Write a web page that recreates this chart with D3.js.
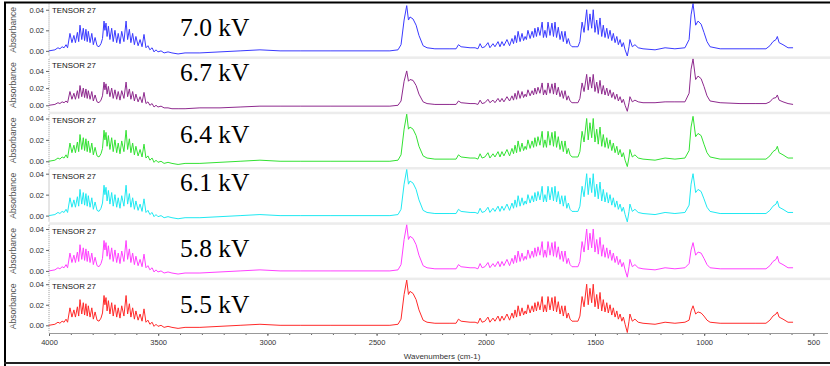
<!DOCTYPE html>
<html>
<head>
<meta charset="utf-8">
<script src="https://cdn.jsdelivr.net/npm/d3@7"></script>
<style>
  body { margin: 0; background: #fff; }
  svg { display: block; }
</style>
</head>
<body>
<div id="chart"></div>
<script>
// wavenumber grid shared by all six spectra (cm-1)
const wavenumbers = [
  4000,3973,3959,3950,3940,3931,3922,3915,3904,3895,
  3886,3879,3870,3864,3858,3850,3843,3837,3831,3825,
  3820,3812,3804,3797,3789,3780,3771,3762,3755,3748,
  3744,3739,3734,3728,3721,3713,3706,3698,3690,3683,
  3675,3667,3657,3647,3640,3632,3625,3617,3609,3602,
  3592,3583,3574,3565,3556,3547,3538,3528,3519,3510,
  3501,3487,3473,3455,3437,3409,3377,3309,3217,3125,
  3034,2942,2850,2713,2576,2439,2402,2388,2374,2362,
  2354,2347,2333,2319,2306,2287,2269,2233,2164,2136,
  2125,2113,2072,2049,2036,2026,2017,2004,1990,1981,
  1967,1958,1944,1935,1926,1917,1903,1891,1880,1873,
  1866,1859,1852,1843,1834,1827,1820,1814,1807,1797,
  1788,1781,1775,1768,1761,1752,1742,1736,1729,1722,
  1715,1706,1697,1690,1683,1676,1668,1660,1652,1645,
  1637,1629,1622,1614,1605,1591,1578,1569,1559,1550,
  1538,1531,1523,1515,1508,1500,1492,1485,1477,1469,
  1462,1454,1446,1439,1431,1423,1416,1408,1400,1393,
  1385,1377,1370,1362,1352,1344,1340,1329,1317,1302,
  1280,1225,1179,1134,1088,1069,1060,1051,1039,1028,
  1014,1001,987,973,927,836,767,717,699,685,
  671,665,657,639,616,593
];

// absorbance, one array per discharge voltage
const abs70 = [
  0.000,0.001,0.003,0.002,0.004,0.003,0.006,0.003,0.017,0.008,
  0.015,0.008,0.018,0.009,0.025,0.011,0.022,0.010,0.021,0.009,
  0.019,0.008,0.017,0.006,0.013,0.005,0.004,0.007,0.012,0.029,
  0.020,0.027,0.014,0.024,0.011,0.022,0.009,0.020,0.008,0.017,
  0.007,0.019,0.009,0.029,0.011,0.021,0.008,0.017,0.006,0.014,
  0.005,0.011,0.004,0.016,0.003,0.005,0.001,0.003,-0.001,0.001,
  -0.001,0.000,-0.002,-0.001,-0.002,-0.003,-0.002,-0.002,-0.001,0.000,
  0.001,0.000,0.000,0.000,0.000,0.000,0.001,0.006,0.030,0.044,
  0.030,0.033,0.031,0.025,0.015,0.005,0.003,0.002,0.002,0.002,
  0.006,0.004,0.003,0.003,0.002,0.007,0.003,0.004,0.008,0.003,
  0.007,0.004,0.009,0.004,0.009,0.005,0.011,0.005,0.012,0.007,
  0.015,0.008,0.019,0.009,0.017,0.010,0.014,0.011,0.020,0.012,
  0.019,0.013,0.022,0.014,0.023,0.015,0.028,0.013,0.020,0.013,
  0.028,0.015,0.027,0.014,0.028,0.013,0.023,0.011,0.019,0.009,
  0.019,0.007,0.012,0.006,0.004,0.004,0.004,0.009,0.028,0.018,
  0.040,0.020,0.036,0.022,0.040,0.018,0.030,0.016,0.032,0.014,
  0.025,0.013,0.022,0.012,0.020,0.010,0.017,0.008,0.014,0.006,
  0.011,0.004,0.008,0.001,-0.005,0.004,0.011,0.004,0.006,0.003,
  0.002,0.001,0.003,0.002,0.003,0.011,0.035,0.046,0.025,0.029,
  0.026,0.018,0.009,0.004,0.002,0.002,0.002,0.002,0.005,0.009,
  0.011,0.014,0.008,0.006,0.003,0.003
];
const abs67 = [
  0.000,0.001,0.003,0.002,0.004,0.003,0.005,0.003,0.016,0.007,
  0.014,0.007,0.017,0.008,0.023,0.010,0.020,0.009,0.019,0.008,
  0.017,0.007,0.016,0.005,0.012,0.004,0.003,0.006,0.011,0.027,
  0.018,0.025,0.013,0.022,0.010,0.020,0.008,0.018,0.007,0.016,
  0.006,0.017,0.008,0.027,0.010,0.019,0.007,0.016,0.005,0.013,
  0.004,0.010,0.003,0.015,0.002,0.004,0.000,0.002,-0.002,0.000,
  -0.002,-0.001,-0.003,-0.003,-0.004,-0.004,-0.004,-0.003,-0.003,-0.002,
  -0.001,-0.001,-0.001,-0.001,-0.001,-0.001,0.000,0.005,0.028,0.040,
  0.028,0.030,0.029,0.023,0.013,0.004,0.002,0.001,0.001,0.001,
  0.005,0.003,0.002,0.002,0.001,0.006,0.002,0.003,0.007,0.003,
  0.006,0.003,0.008,0.004,0.008,0.004,0.010,0.005,0.011,0.006,
  0.014,0.007,0.017,0.008,0.016,0.009,0.013,0.010,0.018,0.011,
  0.017,0.012,0.020,0.013,0.021,0.014,0.026,0.012,0.018,0.012,
  0.026,0.014,0.025,0.013,0.026,0.012,0.021,0.010,0.017,0.008,
  0.017,0.006,0.011,0.005,0.003,0.003,0.003,0.008,0.026,0.016,
  0.036,0.018,0.033,0.020,0.036,0.016,0.027,0.014,0.029,0.013,
  0.023,0.012,0.020,0.011,0.018,0.009,0.015,0.007,0.013,0.005,
  0.010,0.003,0.007,0.000,-0.007,0.003,0.010,0.004,0.006,0.004,
  0.003,0.003,0.004,0.004,0.004,0.014,0.042,0.054,0.030,0.034,
  0.031,0.022,0.011,0.005,0.003,0.002,0.002,0.002,0.004,0.008,
  0.009,0.012,0.006,0.004,0.002,0.001
];
const abs64 = [
  0.000,0.001,0.003,0.002,0.004,0.003,0.006,0.003,0.017,0.008,
  0.015,0.008,0.018,0.009,0.025,0.011,0.022,0.010,0.021,0.009,
  0.019,0.008,0.017,0.006,0.013,0.005,0.004,0.007,0.012,0.029,
  0.020,0.027,0.014,0.024,0.011,0.022,0.009,0.020,0.008,0.017,
  0.007,0.019,0.009,0.029,0.011,0.021,0.008,0.017,0.006,0.014,
  0.005,0.011,0.004,0.016,0.003,0.005,0.001,0.003,-0.001,0.001,
  -0.001,0.000,-0.002,-0.001,-0.002,-0.003,-0.002,-0.002,-0.001,0.000,
  0.001,0.000,0.000,0.000,0.000,0.000,0.001,0.006,0.030,0.044,
  0.030,0.032,0.030,0.024,0.014,0.005,0.003,0.002,0.002,0.002,
  0.006,0.004,0.003,0.003,0.002,0.007,0.003,0.004,0.008,0.003,
  0.007,0.004,0.009,0.004,0.009,0.005,0.011,0.005,0.012,0.007,
  0.015,0.008,0.019,0.009,0.017,0.010,0.014,0.011,0.020,0.012,
  0.019,0.013,0.022,0.014,0.023,0.015,0.028,0.013,0.020,0.013,
  0.028,0.015,0.027,0.014,0.028,0.013,0.023,0.011,0.019,0.009,
  0.019,0.007,0.012,0.006,0.004,0.004,0.004,0.009,0.028,0.018,
  0.040,0.020,0.036,0.022,0.040,0.018,0.030,0.016,0.032,0.014,
  0.025,0.013,0.022,0.012,0.020,0.010,0.017,0.008,0.014,0.006,
  0.011,0.004,0.008,0.001,-0.005,0.004,0.011,0.004,0.006,0.003,
  0.002,0.001,0.003,0.002,0.003,0.010,0.032,0.042,0.023,0.026,
  0.024,0.016,0.008,0.004,0.002,0.002,0.002,0.002,0.005,0.009,
  0.011,0.014,0.008,0.006,0.003,0.003
];
const abs61 = [
  0.000,0.001,0.003,0.002,0.004,0.003,0.006,0.003,0.017,0.008,
  0.015,0.008,0.018,0.009,0.025,0.011,0.022,0.010,0.021,0.009,
  0.019,0.008,0.017,0.006,0.013,0.005,0.004,0.007,0.012,0.029,
  0.020,0.027,0.014,0.024,0.011,0.022,0.009,0.020,0.008,0.017,
  0.007,0.019,0.009,0.029,0.011,0.021,0.008,0.017,0.006,0.014,
  0.005,0.011,0.004,0.016,0.003,0.005,0.001,0.003,-0.001,0.001,
  -0.001,0.000,-0.002,-0.001,-0.002,-0.003,-0.002,-0.002,-0.001,0.000,
  0.001,0.000,0.000,0.000,0.000,0.000,0.001,0.006,0.030,0.044,
  0.030,0.033,0.031,0.025,0.015,0.005,0.003,0.002,0.002,0.002,
  0.006,0.004,0.003,0.003,0.002,0.007,0.003,0.004,0.008,0.003,
  0.007,0.004,0.009,0.004,0.009,0.005,0.011,0.005,0.012,0.007,
  0.015,0.008,0.019,0.009,0.017,0.010,0.014,0.011,0.020,0.012,
  0.019,0.013,0.022,0.014,0.023,0.015,0.028,0.013,0.020,0.013,
  0.028,0.015,0.027,0.014,0.028,0.013,0.023,0.011,0.019,0.009,
  0.019,0.007,0.012,0.006,0.004,0.004,0.004,0.009,0.028,0.018,
  0.040,0.020,0.036,0.022,0.040,0.018,0.030,0.016,0.032,0.014,
  0.025,0.013,0.022,0.012,0.020,0.010,0.017,0.008,0.014,0.006,
  0.011,0.004,0.008,0.001,-0.006,0.004,0.011,0.004,0.006,0.003,
  0.002,0.001,0.003,0.002,0.003,0.010,0.030,0.040,0.022,0.025,
  0.023,0.016,0.008,0.004,0.002,0.002,0.002,0.002,0.005,0.009,
  0.011,0.014,0.008,0.006,0.003,0.003
];
const abs58 = [
  0.000,0.001,0.003,0.002,0.004,0.003,0.006,0.003,0.017,0.008,
  0.015,0.008,0.018,0.009,0.025,0.011,0.022,0.010,0.021,0.009,
  0.019,0.008,0.017,0.006,0.013,0.005,0.004,0.007,0.012,0.029,
  0.020,0.027,0.014,0.024,0.011,0.022,0.009,0.020,0.008,0.017,
  0.007,0.019,0.009,0.029,0.011,0.021,0.008,0.017,0.006,0.014,
  0.005,0.011,0.004,0.016,0.003,0.005,0.001,0.003,-0.001,0.001,
  -0.001,0.000,-0.002,-0.001,-0.002,-0.003,-0.002,-0.002,-0.001,0.000,
  0.001,0.000,0.000,0.000,0.000,0.000,0.001,0.006,0.030,0.044,
  0.030,0.033,0.031,0.025,0.015,0.005,0.003,0.002,0.002,0.002,
  0.006,0.004,0.003,0.003,0.002,0.007,0.003,0.004,0.008,0.003,
  0.007,0.004,0.009,0.004,0.009,0.005,0.011,0.005,0.012,0.007,
  0.015,0.008,0.019,0.009,0.017,0.010,0.014,0.011,0.020,0.012,
  0.019,0.013,0.022,0.014,0.023,0.015,0.028,0.013,0.020,0.013,
  0.028,0.015,0.027,0.014,0.028,0.013,0.023,0.011,0.019,0.009,
  0.019,0.007,0.012,0.006,0.004,0.004,0.004,0.009,0.028,0.018,
  0.040,0.020,0.036,0.022,0.040,0.018,0.030,0.016,0.032,0.014,
  0.025,0.013,0.022,0.012,0.020,0.010,0.017,0.008,0.014,0.006,
  0.011,0.004,0.008,0.001,-0.006,0.004,0.011,0.004,0.006,0.003,
  0.002,0.001,0.003,0.002,0.003,0.007,0.020,0.027,0.015,0.018,
  0.017,0.012,0.006,0.003,0.002,0.002,0.002,0.002,0.005,0.009,
  0.011,0.014,0.008,0.006,0.003,0.003
];
const abs55 = [
  0.000,0.001,0.003,0.002,0.004,0.003,0.006,0.003,0.017,0.008,
  0.015,0.008,0.018,0.009,0.025,0.011,0.022,0.010,0.021,0.009,
  0.019,0.008,0.017,0.006,0.013,0.005,0.004,0.007,0.012,0.029,
  0.020,0.027,0.014,0.024,0.011,0.022,0.009,0.020,0.008,0.017,
  0.007,0.019,0.009,0.029,0.011,0.021,0.008,0.017,0.006,0.014,
  0.005,0.011,0.004,0.016,0.003,0.005,0.001,0.003,-0.001,0.001,
  -0.001,0.000,-0.002,-0.001,-0.002,-0.003,-0.002,-0.002,-0.001,0.000,
  0.001,0.000,0.000,0.000,0.000,0.000,0.001,0.006,0.030,0.044,
  0.030,0.033,0.031,0.025,0.015,0.005,0.003,0.002,0.002,0.002,
  0.006,0.004,0.003,0.003,0.002,0.007,0.003,0.004,0.008,0.003,
  0.007,0.004,0.009,0.004,0.009,0.005,0.011,0.005,0.012,0.007,
  0.015,0.008,0.019,0.009,0.017,0.010,0.014,0.011,0.020,0.012,
  0.019,0.013,0.022,0.014,0.023,0.015,0.028,0.013,0.020,0.013,
  0.028,0.015,0.027,0.014,0.028,0.013,0.023,0.011,0.019,0.009,
  0.019,0.007,0.012,0.006,0.004,0.004,0.004,0.009,0.028,0.018,
  0.040,0.020,0.036,0.022,0.040,0.018,0.030,0.016,0.032,0.014,
  0.025,0.013,0.022,0.012,0.020,0.010,0.017,0.008,0.014,0.006,
  0.011,0.004,0.008,0.001,-0.007,0.004,0.011,0.004,0.006,0.003,
  0.002,0.001,0.003,0.002,0.003,0.005,0.014,0.019,0.011,0.013,
  0.012,0.009,0.005,0.003,0.002,0.002,0.002,0.002,0.005,0.009,
  0.011,0.013,0.008,0.006,0.003,0.003
];

const voltageLabels = ['7.0 kV', '6.7 kV', '6.4 kV', '6.1 kV', '5.8 kV', '5.5 kV'];
const yTickValues = [0, 0.02, 0.04];
const xMajorTicks = [4000, 3500, 3000, 2500, 2000, 1500, 1000, 500];
const xMinorTicks = d3.range(4000, 499, -100);

const spectra = [abs70, abs67, abs64, abs61, abs58, abs55];
const colors = ['#3a3aff', '#8e2a8e', '#33e233', '#1fe9f2', '#ff40ff', '#ff2a2a'];
// baseline of the big voltage labels, per panel (pasted in by hand in the original)
const labelBaseline = [36, 81, 143, 191, 257, 313];

const width = 830;
const height = 366;
const plotLeft = 49;
const plotRight = 828;
const panelTop0 = 3.6;
const panelPitch = 55.3;
const panelH = 52.4;
const axisY = 333;

const svg = d3.select('#chart').append('svg')
  .attr('width', width)
  .attr('height', height);

svg.append('rect').attr('width', width).attr('height', height).attr('fill', '#fff');

const xScale = d3.scaleLinear().domain([4000, 433]).range([plotLeft, plotRight]);

spectra.forEach(function(values, i) {
  const top = panelTop0 + i * panelPitch;
  const pts = wavenumbers.map(function(w, k) { return [w, values[k]]; });
  const yScale = d3.scaleLinear().domain(d3.extent(values)).range([top + panelH, top]);

  // grey strip under each panel
  if (i < spectra.length - 1) {
    svg.append('rect')
      .attr('x', plotLeft).attr('y', top + panelH + 0.4)
      .attr('width', width - plotLeft).attr('height', panelPitch - panelH - 0.4)
      .attr('fill', '#ececec');
  }

  // dotted y axis line
  svg.append('line')
    .attr('x1', plotLeft).attr('x2', plotLeft)
    .attr('y1', top).attr('y2', top + panelH)
    .attr('stroke', '#999').attr('stroke-dasharray', '1,1');

  const yAxis = d3.axisLeft(yScale).tickValues(yTickValues)
    .tickSize(3).tickPadding(2).tickFormat(d3.format('.2f'));
  const gy = svg.append('g').attr('transform', 'translate(' + plotLeft + ',0)').call(yAxis);
  gy.select('.domain').remove();
  gy.selectAll('line').attr('stroke', '#666');
  gy.selectAll('text').attr('font-family', 'Liberation Sans, Arial, sans-serif')
    .attr('font-size', 7.5).attr('fill', '#333');

  svg.append('text')
    .attr('transform', 'translate(16,' + (top + panelH / 2) + ') rotate(-90)')
    .attr('text-anchor', 'middle')
    .attr('font-family', 'Liberation Sans, Arial, sans-serif')
    .attr('font-size', 8.6).attr('fill', '#555')
    .text('Absorbance');

  svg.append('text')
    .attr('x', plotLeft + 3).attr('y', top + 9)
    .attr('font-family', 'Liberation Sans, Arial, sans-serif')
    .attr('font-size', 7.9).attr('fill', '#111')
    .text('TENSOR 27');

  const line = d3.line()
    .x(function(d) { return xScale(d[0]); })
    .y(function(d) { return yScale(d[1]); });

  svg.append('path')
    .datum(pts)
    .attr('d', line)
    .attr('fill', 'none')
    .attr('stroke', colors[i])
    .attr('stroke-width', 1)
    .attr('stroke-linejoin', 'round');

  svg.append('text')
    .attr('x', 180).attr('y', labelBaseline[i])
    .attr('font-family', 'Liberation Serif, Times New Roman, serif')
    .attr('font-size', 25.5).attr('fill', '#000')
    .text(voltageLabels[i]);
});

// x axis
const gx = svg.append('g').attr('transform', 'translate(0,' + axisY + ')');
gx.call(d3.axisBottom(xScale).tickValues(xMinorTicks).tickSize(2).tickFormat(''));
gx.select('.domain').remove();
const gxMajor = svg.append('g').attr('transform', 'translate(0,' + axisY + ')')
  .call(d3.axisBottom(xScale).tickValues(xMajorTicks).tickSize(3).tickPadding(4).tickFormat(d3.format('d')));
gxMajor.select('.domain').remove();
svg.append('line')
  .attr('x1', plotLeft).attr('x2', plotRight)
  .attr('y1', axisY + 0.5).attr('y2', axisY + 0.5)
  .attr('stroke', '#999');
svg.selectAll('.tick line').attr('stroke', '#666');
gxMajor.selectAll('text').attr('font-family', 'Liberation Sans, Arial, sans-serif')
  .attr('font-size', 7.5).attr('fill', '#333');

svg.append('text')
  .attr('x', 442).attr('y', 359)
  .attr('text-anchor', 'middle')
  .attr('font-family', 'Liberation Sans, Arial, sans-serif')
  .attr('font-size', 8).attr('fill', '#333')
  .text('Wavenumbers (cm-1)');

// outer frame
svg.append('path')
  .attr('d', 'M' + 5 + ',' + 366 + 'V2.5H' + (width + 5))
  .attr('fill', 'none').attr('stroke', '#000').attr('stroke-width', 2);
svg.append('line')
  .attr('x1', 4).attr('x2', width + 5)
  .attr('y1', 363).attr('y2', 363)
  .attr('stroke', '#222').attr('stroke-width', 2);
</script>
</body>
</html>
